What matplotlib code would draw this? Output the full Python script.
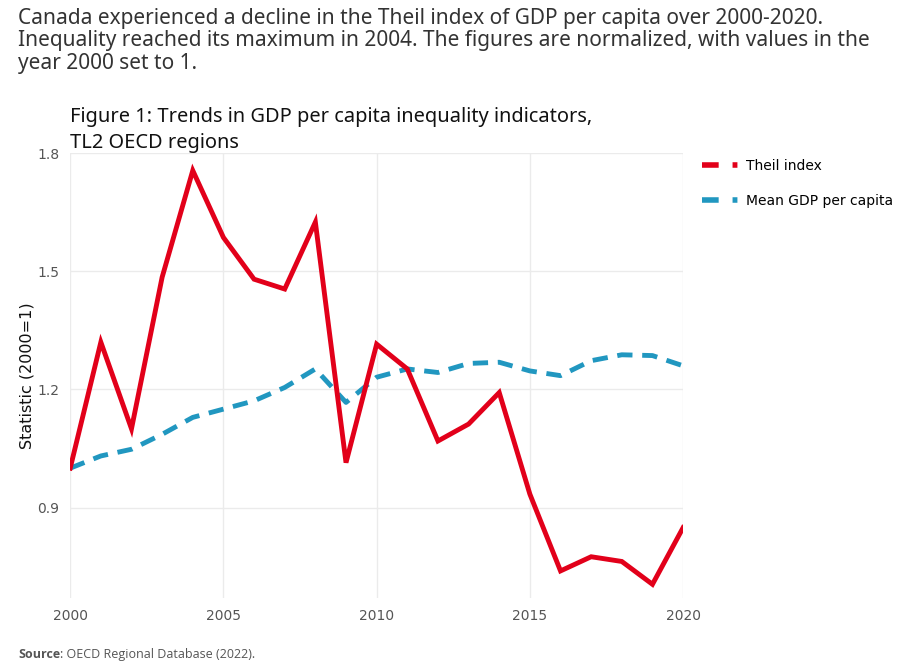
import matplotlib.pyplot as plt
from matplotlib.lines import Line2D

plt.rcParams['font.family'] = ['DejaVu Sans']
plt.rcParams['lines.scale_dashes'] = False

# data (2000 = 1)
years = list(range(2000, 2021))
theil = [1.00, 1.32, 1.10, 1.485, 1.756, 1.586, 1.48, 1.455, 1.625, 1.014, 1.315,
         1.252, 1.069, 1.112, 1.192, 0.934, 0.739, 0.775, 0.763, 0.705, 0.849]
mean_gdp = [1.00, 1.031, 1.048, 1.086, 1.129, 1.15, 1.171, 1.205, 1.252, 1.167, 1.231,
            1.252, 1.243, 1.266, 1.269, 1.247, 1.235, 1.273, 1.288, 1.286, 1.26]
series_names = ['Theil index', 'Mean GDP per capita']
x_ticks = [2000, 2005, 2010, 2015, 2020]
y_ticks = [0.9, 1.2, 1.5, 1.8]

red = '#E2001A'
blue = '#2197C0'

fig = plt.figure(figsize=(9, 6.72), dpi=100)
ax = fig.add_axes([0.078, 0.11, 0.681, 0.662])

ax.plot(years, theil, color=red, lw=3.5, solid_joinstyle='miter', zorder=3)
ax.plot(years, mean_gdp, color=blue, lw=3.5, dashes=(11, 7), zorder=2)

ax.set_xlim(2000, 2020)
ax.set_ylim(0.67, 1.8)
ax.set_xticks(x_ticks)
ax.set_yticks(y_ticks)
ax.set_yticklabels([f'{v:.1f}' for v in y_ticks])
ax.grid(True, color='#ebebeb', lw=1)
ax.set_axisbelow(True)
for s in ax.spines.values():
    s.set_visible(False)
ax.tick_params(length=0, labelsize=10, labelcolor='#555555', pad=8)
ax.set_ylabel('Statistic (2000=1)', fontsize=11.5, color='#111111', labelpad=2)

# legend: short dash + dot, like the original
handles = [Line2D([], [], color=red, lw=4, dashes=(12, 10, 3.5, 100)),
           Line2D([], [], color=blue, lw=4, dashes=(12, 10, 3.5, 100))]
ax.legend(handles, series_names, loc='upper left', bbox_to_anchor=(1.024, 0.996),
          frameon=False, fontsize=10, handlelength=2.6, handletextpad=0.55,
          labelspacing=1.5, borderaxespad=0.2, borderpad=0.1)

fig.text(0.02, 0.988,
         'Canada experienced a decline in the Theil index of GDP per capita over 2000-2020.\n'
         'Inequality reached its maximum in 2004. The figures are normalized, with values in the\n'
         'year 2000 set to 1.',
         fontsize=15, color='#333333', family='Noto Sans', va='top', linespacing=1.08)

fig.text(0.078, 0.841, 'Figure 1: Trends in GDP per capita inequality indicators,\nTL2 OECD regions',
         fontsize=14.4, color='#111111', family='Noto Sans', weight='medium',
         va='top', linespacing=1.4)

t = fig.text(0.02, 0.016, 'Source', fontsize=9, color='#555555', family='Open Sans',
             weight='bold', va='bottom')
fig.canvas.draw()
bb = t.get_window_extent()
fig.text(bb.x1 / fig.dpi / 9, 0.016, ': OECD Regional Database (2022).', fontsize=9,
         color='#555555', family='Open Sans', va='bottom')

fig.savefig('out.png', dpi=100)
